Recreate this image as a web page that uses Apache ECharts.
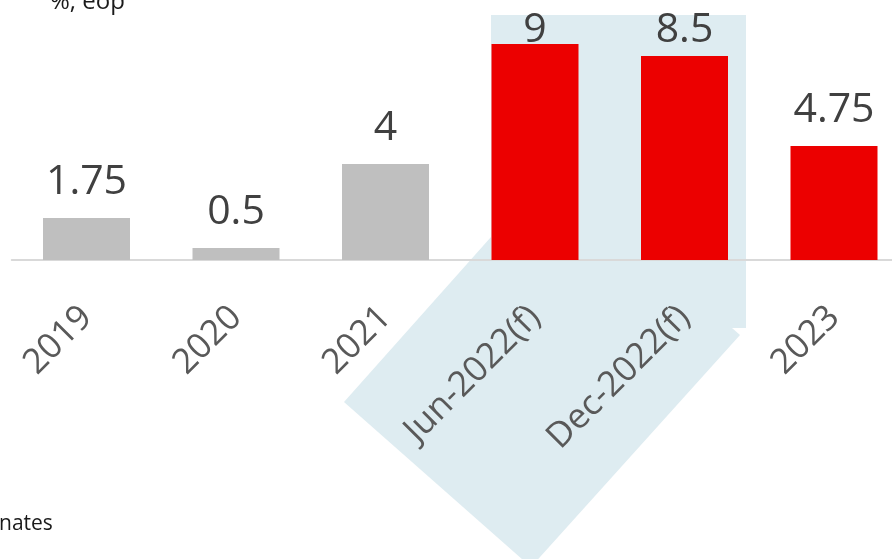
<!DOCTYPE html>
<html>
<head>
<meta charset="utf-8">
<script src="https://cdn.jsdelivr.net/npm/echarts@6/dist/echarts.min.js"></script>
<style>
  html, body { margin: 0; padding: 0; background: #ffffff; }
  #chart { width: 892px; height: 559px; }
</style>
</head>
<body>
<div id="chart"></div>
<script>
// Policy rate, end of period (%)
const categories = ['2019', '2020', '2021', 'Jun-2022(f)', 'Dec-2022(f)', '2023'];
const values = [1.75, 0.5, 4, 9, 8.5, 4.75];
const highlighted = [false, false, false, true, true, true];
// Per-bar label offset above the bar top (the two forecast labels sit tighter)
const labelGap = [15, 15, 15, -7, 5, 15];

const GREY = '#bfbfbf';
const RED = '#ec0000';
const HIGHLIGHT = '#deecf1';
const FONT = 'Open Sans';

const chart = echarts.init(document.getElementById('chart'), null, { renderer: 'canvas' });

const seriesData = values.map((v, i) => ({
  value: v,
  itemStyle: { color: highlighted[i] ? RED : GREY },
  label: { distance: labelGap[i] }
}));

chart.setOption({
  animation: false,
  backgroundColor: '#ffffff',
  grid: {
    left: 11.75,
    width: 897,
    top: 20,
    bottom: 299,
    containLabel: false,
    outerBoundsMode: 'none'
  },
  xAxis: {
    type: 'category',
    data: categories,
    axisLine: { show: true, lineStyle: { color: '#d9d9d9', width: 2 } },
    axisTick: { show: false },
    axisLabel: {
      interval: 0,
      rotate: 45,
      margin: 52,
      fontSize: 35,
      fontFamily: FONT,
      color: '#595959'
    }
  },
  yAxis: {
    type: 'value',
    min: 0,
    max: 10,
    show: false,
    splitLine: { show: false }
  },
  graphic: [
    {
      // shaded band behind the forecast bars and their labels
      type: 'polygon',
      z: -10,
      silent: true,
      shape: {
        points: [[491, 15], [746, 15], [746, 328], [732, 328], [740, 335],
                 [531, 567], [344, 402], [491, 237]]
      },
      style: { fill: HIGHLIGHT }
    },
    {
      type: 'text',
      left: 50,
      top: -10,
      style: { text: '%, eop', fontSize: 24, fontFamily: FONT, fill: '#1a1a1a' }
    },
    {
      type: 'text',
      left: -1,
      top: 514,
      style: { text: 'nates', fontSize: 21, fontFamily: FONT, fill: '#1a1a1a' }
    }
  ],
  series: [{
    type: 'bar',
    data: seriesData,
    barWidth: 87,
    label: {
      show: true,
      position: 'top',
      fontSize: 41,
      fontFamily: FONT,
      color: '#404040'
    }
  }]
});
</script>
</body>
</html>
